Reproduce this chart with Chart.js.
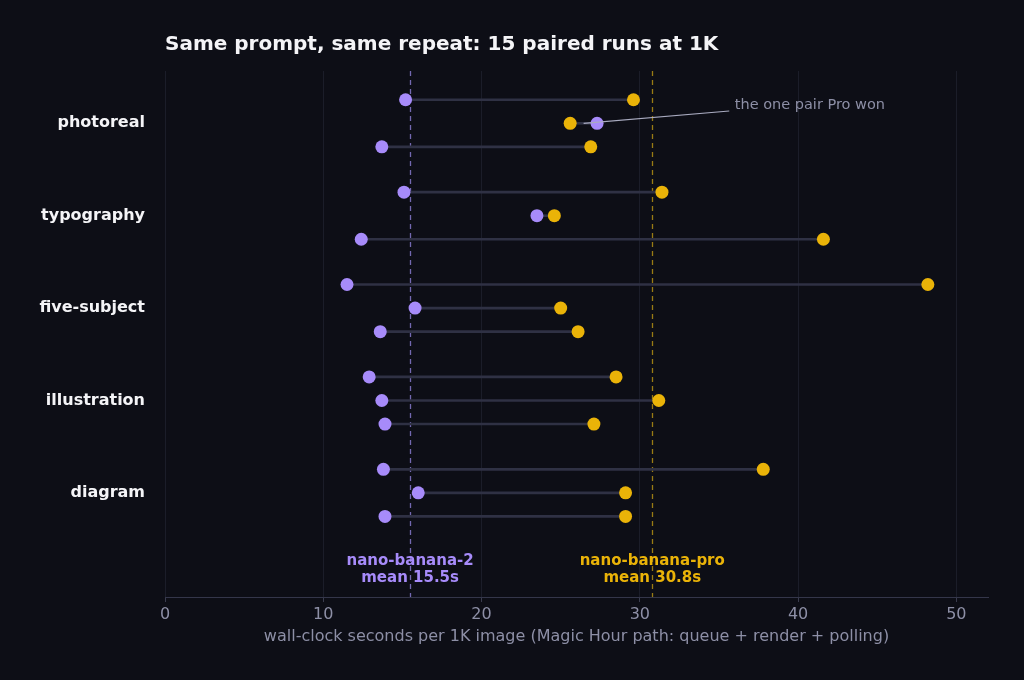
<!DOCTYPE html>
<html>
<head>
<meta charset="utf-8">
<script src="https://cdn.jsdelivr.net/npm/chart.js@4/dist/chart.umd.min.js"></script>
<style>
  html, body { margin: 0; padding: 0; background: #0d0e16; }
  canvas { display: block; }
</style>
</head>
<body>
<canvas id="pairsChart" width="1024" height="680"></canvas>
<script>
// prompt categories, 3 paired runs each
const groups = ['photoreal', 'typography', 'five-subject', 'illustration', 'diagram'];
const runsPerGroup = 3;

// wall-clock seconds, one value per run (group order, run order)
const nanoBanana2 = [15.2, 27.3, 13.7, 15.1, 23.5, 12.4, 11.5, 15.8, 13.6, 12.9, 13.7, 13.9, 13.8, 16.0, 13.9];
const nanoBananaPro = [29.6, 25.6, 26.9, 31.4, 24.6, 41.6, 48.2, 25.0, 26.1, 28.5, 31.2, 27.1, 37.8, 29.1, 29.1];

const xTicks = [0, 10, 20, 30, 40, 50];

const PURPLE = '#a78bfa';
const GOLD = '#eab308';
const rowOffset = 0.255;

function rowPos(i) {
    const g = Math.floor(i / runsPerGroup);
    const r = i % runsPerGroup;
    return g + (r - 1) * rowOffset;
}
function mean(arr) {
    return arr.reduce((a, b) => a + b, 0) / arr.length;
}

const mean2 = mean(nanoBanana2);
const meanPro = mean(nanoBananaPro);

// the run where pro beat nano-banana-2
const proWonIdx = nanoBananaPro.findIndex((v, i) => v < nanoBanana2[i]);

Chart.defaults.font.family = '"DejaVu Sans", sans-serif';
Chart.defaults.color = '#8d8fa6';

const overlay = {
    id: 'overlay',
    beforeDatasetsDraw(chart) {
        const { ctx, chartArea, scales: { x, y } } = chart;
        ctx.save();
        // mean lines
        [[mean2, 'rgba(150,135,230,0.75)'], [meanPro, 'rgba(200,160,20,0.75)']].forEach(([m, c]) => {
            const px = Math.round(x.getPixelForValue(m)) + 0.5;
            ctx.strokeStyle = c;
            ctx.lineWidth = 1.3;
            ctx.setLineDash([5, 4]);
            ctx.beginPath();
            ctx.moveTo(px, chartArea.top);
            ctx.lineTo(px, chartArea.bottom);
            ctx.stroke();
        });
        ctx.setLineDash([]);

        // mean labels
        ctx.font = 'bold 15px "DejaVu Sans"';
        ctx.textAlign = 'center';
        ctx.textBaseline = 'middle';
        ctx.fillStyle = PURPLE;
        ctx.fillText('nano-banana-2', x.getPixelForValue(mean2), y.getPixelForValue(4.737));
        ctx.fillText('mean ' + mean2.toFixed(1) + 's', x.getPixelForValue(mean2), y.getPixelForValue(4.925));
        ctx.fillStyle = GOLD;
        ctx.fillText('nano-banana-pro', x.getPixelForValue(meanPro), y.getPixelForValue(4.737));
        ctx.fillText('mean ' + meanPro.toFixed(1) + 's', x.getPixelForValue(meanPro), y.getPixelForValue(4.925));
        ctx.restore();
    },
    afterDatasetsDraw(chart) {
        const { ctx, chartArea, scales: { x, y } } = chart;
        ctx.save();
        // annotation
        if (proWonIdx >= 0) {
            const mid = (nanoBanana2[proWonIdx] + nanoBananaPro[proWonIdx]) / 2;
            const ry = rowPos(proWonIdx);
            ctx.strokeStyle = '#a9abc0';
            ctx.lineWidth = 1.2;
            ctx.beginPath();
            ctx.moveTo(x.getPixelForValue(35.65), y.getPixelForValue(ry - 0.133));
            ctx.lineTo(x.getPixelForValue(mid), y.getPixelForValue(ry));
            ctx.stroke();
            ctx.font = '14.5px "DejaVu Sans"';
            ctx.fillStyle = '#8d8fa6';
            ctx.textAlign = 'left';
            ctx.textBaseline = 'middle';
            ctx.fillText('the one pair Pro won', x.getPixelForValue(36.0), y.getPixelForValue(ry - 0.198));
        }
        // title
        ctx.font = 'bold 20px "DejaVu Sans"';
        ctx.fillStyle = '#f4f4f7';
        ctx.textAlign = 'left';
        ctx.textBaseline = 'middle';
        ctx.fillText('Same prompt, same repeat: 15 paired runs at 1K', chartArea.left, 45);
        ctx.restore();
    }
};

const ctx = document.getElementById('pairsChart').getContext('2d');
new Chart(ctx, {
    type: 'scatter',
    data: {
        datasets: [
            {
                label: 'nano-banana-2',
                data: nanoBanana2.map((v, i) => ({ x: v, y: rowPos(i) })),
                backgroundColor: PURPLE,
                borderWidth: 0,
                pointRadius: 6.5,
                order: 0
            },
            {
                label: 'nano-banana-pro',
                data: nanoBananaPro.map((v, i) => ({ x: v, y: rowPos(i) })),
                backgroundColor: GOLD,
                borderWidth: 0,
                pointRadius: 6.5,
                order: 0
            },
            {
                type: 'bar',
                label: 'pair',
                indexAxis: 'y',
                data: nanoBanana2.map((v, i) => ({ x: [v, nanoBananaPro[i]], y: rowPos(i) })),
                backgroundColor: '#2f3144',
                barThickness: 2,
                order: 1
            }
        ]
    },
    options: {
        responsive: false,
        animation: false,
        layout: { padding: { top: 71, right: 36, bottom: 0, left: 0 } },
        plugins: {
            legend: { display: false },
            tooltip: { enabled: false },
            title: { display: false }
        },
        scales: {
            x: {
                type: 'linear',
                min: 0,
                max: 52,
                afterBuildTicks: (scale) => { scale.ticks = xTicks.map(v => ({ value: v })); },
                afterFit: (scale) => { scale.height = 83; },
                ticks: {
                    includeBounds: false,
                    padding: 3,
                    color: '#8d8fa6',
                    font: { size: 16 }
                },
                grid: {
                    color: '#1b1d29',
                    tickColor: '#3a3c4e',
                    tickLength: 5,
                    lineWidth: 1
                },
                border: { color: '#34364a', width: 1 },
                title: {
                    display: true,
                    text: 'wall-clock seconds per 1K image (Magic Hour path: queue + render + polling)',
                    color: '#8d8fa6',
                    font: { size: 16 },
                    padding: { top: 0, bottom: 34 }
                }
            },
            y: {
                type: 'linear',
                min: -0.566,
                max: 5.127,
                reverse: true,
                offset: false,
                afterBuildTicks: (scale) => { scale.ticks = groups.map((g, i) => ({ value: i })); },
                afterFit: (scale) => { scale.width = 165; },
                ticks: {
                    padding: 20,
                    color: '#f4f4f7',
                    font: { size: 16, weight: 'bold' },
                    callback: (v) => groups[v]
                },
                grid: { display: false, drawTicks: false, offset: false },
                border: { display: false }
            }
        }
    },
    plugins: [overlay]
});
</script>
</body>
</html>
